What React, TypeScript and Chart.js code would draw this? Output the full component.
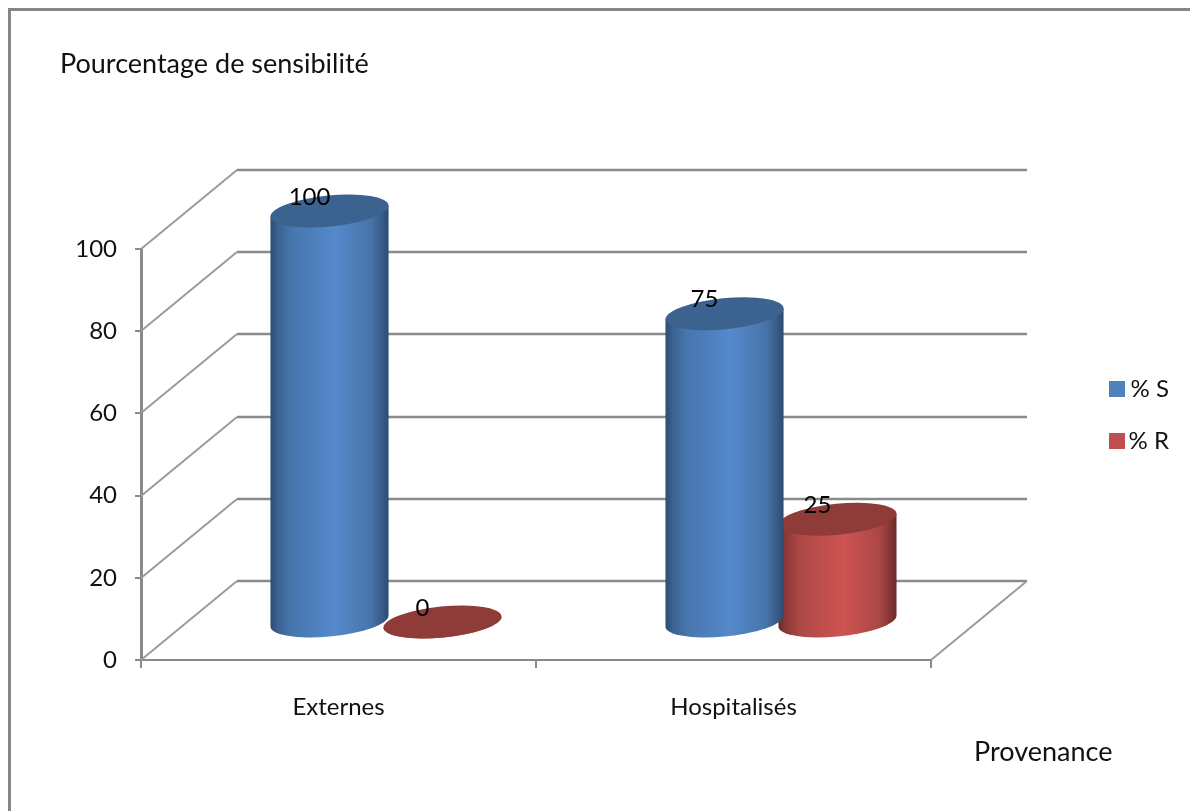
import React, { useEffect, useRef } from "react";
import Chart from "chart.js/auto";

// Chart values
const categories = ["Externes", "Hospitalisés"];
const seriesS = [100, 75];
const seriesR = [0, 25];
const seriesNames = ["% S", "% R"];
const yAxisLabel = "Pourcentage de sensibilité";
const xAxisLabel = "Provenance";

const FONT = "Lato, 'Noto Sans', sans-serif";
const LINE = "#8a8a8a";

// Oblique projection of the 3D box: back wall offset, and the mid-depth used by the cylinders
const WALL_DX = 96;
const WALL_DY = -79;
const BAR_DX = 47.5;
const BAR_DY = -38;
const TILT = (-5.6 * Math.PI) / 180;

type Shade = { stops: [number, string][]; cap: string };
const shades: Shade[] = [
  {
    stops: [
      [0, "#2c4c72"],
      [0.06, "#3a6190"],
      [0.18, "#4776ae"],
      [0.55, "#5589cc"],
      [0.85, "#4775aa"],
      [0.95, "#365a84"],
      [1, "#2c4c72"],
    ],
    cap: "#3c628f",
  },
  {
    stops: [
      [0, "#6a2a28"],
      [0.06, "#8a3836"],
      [0.18, "#ad4947"],
      [0.55, "#cd5452"],
      [0.85, "#ab4846"],
      [0.95, "#813533"],
      [1, "#6a2a28"],
    ],
    cap: "#8f3b38",
  },
];

function drawCylinder(ctx: CanvasRenderingContext2D, cx: number, topY: number, botY: number, width: number, shade: Shade) {
  const rx = width * 0.525;
  const ry = rx * 0.262;
  const t0 = Math.atan2(-ry * Math.sin(TILT), rx * Math.cos(TILT));
  const tipX = rx * Math.cos(t0) * Math.cos(TILT) - ry * Math.sin(t0) * Math.sin(TILT);
  const tipY = rx * Math.cos(t0) * Math.sin(TILT) + ry * Math.sin(t0) * Math.cos(TILT);

  const grad = ctx.createLinearGradient(cx - tipX, 0, cx + tipX, 0);
  shade.stops.forEach(([o, c]) => grad.addColorStop(o, c));
  ctx.beginPath();
  ctx.moveTo(cx - tipX, topY - tipY);
  ctx.lineTo(cx - tipX, botY - tipY);
  ctx.ellipse(cx, botY, rx, ry, TILT, t0 + Math.PI, t0, true);
  ctx.lineTo(cx + tipX, topY + tipY);
  ctx.closePath();
  ctx.fillStyle = grad;
  ctx.fill();

  ctx.beginPath();
  ctx.ellipse(cx, topY, rx, ry, TILT, 0, Math.PI * 2);
  ctx.fillStyle = shade.cap;
  ctx.fill();
}

const scenePlugin = {
  id: "scene",
  afterLayout(chart: any) {
    const legend = chart.legend;
    legend.left = 1081;
    legend.right = 1169;
    legend.top = 349;
    legend.bottom = 620;
  },
  beforeDraw(chart: any) {
    const { ctx, width, height } = chart;
    ctx.save();
    ctx.fillStyle = "#fff";
    ctx.fillRect(0, 0, width, height);
    ctx.strokeStyle = "#868686";
    ctx.lineWidth = 3;
    ctx.beginPath();
    ctx.moveTo(9.5, height);
    ctx.lineTo(9.5, 9.5);
    ctx.lineTo(width, 9.5);
    ctx.stroke();
    ctx.restore();
  },
  beforeDatasetsDraw(chart: any) {
    const { ctx, chartArea, scales } = chart;
    const y = scales.y;
    ctx.save();
    // Side wall and back wall lines at every tick
    y.ticks.forEach((t: any) => {
      const py = Math.round(y.getPixelForValue(t.value));
      ctx.strokeStyle = "#9b9b9b";
      ctx.lineWidth = 2;
      ctx.beginPath();
      ctx.moveTo(chartArea.left, py);
      ctx.lineTo(chartArea.left + WALL_DX, py + WALL_DY);
      ctx.stroke();
      ctx.strokeStyle = LINE;
      ctx.lineWidth = 2.5;
      ctx.beginPath();
      ctx.moveTo(chartArea.left + WALL_DX, py + WALL_DY);
      ctx.lineTo(chartArea.right + WALL_DX, py + WALL_DY);
      ctx.stroke();
    });
    // Floor: right edge
    const base = Math.round(y.getPixelForValue(0));
    ctx.strokeStyle = "#9b9b9b";
    ctx.lineWidth = 2;
    ctx.beginPath();
    ctx.moveTo(chartArea.right, base);
    ctx.lineTo(chartArea.right + WALL_DX, base + WALL_DY);
    ctx.stroke();
    ctx.restore();
  },
  // The cylinders replace the flat rectangles of each dataset
  beforeDatasetDraw(chart: any, args: any) {
    const { ctx } = chart;
    ctx.save();
    chart.getDatasetMeta(args.index).data.forEach((bar: any) => {
      drawCylinder(ctx, bar.x + BAR_DX, bar.y + BAR_DY, bar.base + BAR_DY, bar.width, shades[args.index]);
    });
    ctx.restore();
    return false;
  },
  afterDatasetsDraw(chart: any) {
    const { ctx } = chart;
    ctx.save();
    ctx.fillStyle = "#000";
    ctx.font = `24px ${FONT}`;
    ctx.textAlign = "center";
    ctx.textBaseline = "middle";
    chart.data.datasets.forEach((ds: any, i: number) => {
      chart.getDatasetMeta(i).data.forEach((bar: any, j: number) => {
        ctx.fillText(String(ds.data[j]), bar.x + BAR_DX - 20, bar.y + BAR_DY - 14);
      });
    });
    // Axis captions
    ctx.textAlign = "left";
    ctx.fillStyle = "#111";
    ctx.font = `27px ${FONT}`;
    ctx.fillText(yAxisLabel, 60, 64);
    ctx.fillText(xAxisLabel, 974, 752);
    ctx.restore();
  },
};

export default function App() {
  const ref = useRef<HTMLCanvasElement>(null);
  useEffect(() => {
    const chart = new Chart(ref.current!, {
      type: "bar",
      data: {
        labels: categories,
        datasets: [
          { label: seriesNames[0], data: seriesS, backgroundColor: "#4F81BD", categoryPercentage: 0.572, barPercentage: 1 },
          { label: seriesNames[1], data: seriesR, backgroundColor: "#C0504D", categoryPercentage: 0.572, barPercentage: 1 },
        ],
      },
      options: {
        animation: false,
        responsive: false,
        devicePixelRatio: 1,
        layout: { padding: { top: 249, left: 0, right: 259, bottom: 0 } },
        plugins: {
          title: { display: false },
          tooltip: { enabled: false },
          legend: {
            display: true,
            position: "chartArea",
            fullSize: false,
            align: "start",
            labels: {
              boxWidth: 16,
              boxHeight: 16,
              padding: 28,
              textAlign: "right",
              color: "#111",
              font: { family: FONT, size: 24, lineHeight: 1 },
            },
          },
        },
        scales: {
          x: {
            afterFit(scale: any) {
              scale.height = 151;
            },
            border: { color: LINE, width: 2 },
            grid: { drawOnChartArea: false, color: LINE, lineWidth: 2, tickLength: 8 },
            ticks: { color: "#111", padding: 25, font: { family: FONT, size: 24 } },
          },
          y: {
            min: 0,
            max: 100,
            afterFit(scale: any) {
              scale.width = 141;
            },
            border: { color: LINE, width: 3 },
            grid: { drawOnChartArea: false, color: LINE, lineWidth: 2, tickLength: 6 },
            ticks: { stepSize: 20, color: "#111", padding: 18, font: { family: FONT, size: 24 } },
          },
        },
      },
      plugins: [scenePlugin],
    } as any);
    return () => chart.destroy();
  }, []);
  return (
    <div style={{ position: "absolute", left: 0, top: 0, width: 1190, height: 811 }}>
      <canvas ref={ref} width={1190} height={811} style={{ display: "block" }} />
    </div>
  );
}
